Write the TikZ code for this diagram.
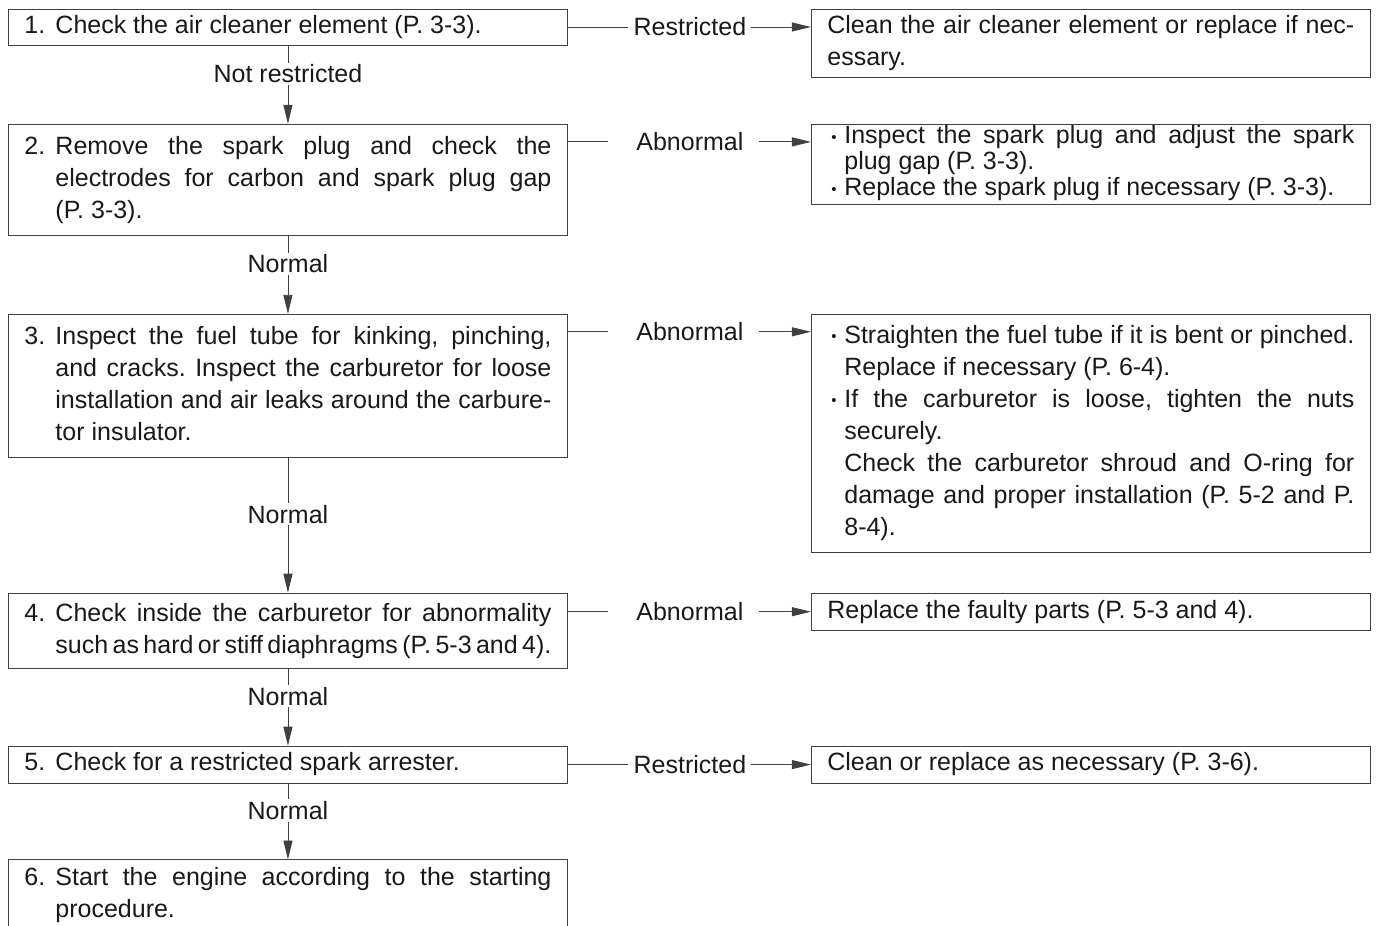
\documentclass[tikz,border=0pt]{standalone}
\usepackage{fontspec}
\setmainfont{Liberation Sans}
\usepackage{graphicx}
\usepackage{tikz}
\usetikzlibrary{positioning,arrows.meta}
\newcommand{\numitem}[1]{\hangindent=31pt\hangafter=1\noindent\makebox[31pt][l]{#1}\strut}
\newcommand{\bulitem}{\hangindent=17pt\hangafter=1\noindent\makebox[17pt][l]{\hspace{4pt}\raisebox{0.07em}{\scalebox{0.6}{•}}}\strut}
\newcommand{\plainitem}{\noindent\strut}
\newcommand{\finis}{\strut\par}

\begin{document}
\begin{tikzpicture}%
  \tikzstyle{every node}=[text=black!90]
  \tikzstyle{txt}=[font={\fontsize{25}{32}\selectfont\frenchspacing\tolerance=10000\spaceskip=0.278em plus 0.3em minus 0.3em}]
  \tikzstyle{tight}=[font={\fontsize{25}{23}\selectfont\frenchspacing\tolerance=10000\spaceskip=0.278em plus 0.3em minus 0.3em}]
  \tikzstyle{stepbox}=[txt,draw=black!75,line width=0.9pt,text width=527pt,inner xsep=16pt,inner ysep=0pt,align=justify,anchor=north west]
  \tikzstyle{conn}=[draw=black!75,line width=0.9pt]
  \tikzstyle{arr}=[conn,-{Triangle[length=19pt,width=9pt]}]
  \tikzstyle{cond}=[txt,inner xsep=5pt]
  \tikzstyle{abn}=[txt,inner xsep=15pt,execute at begin node={\hspace*{13pt}}]
  \tikzstyle{vlab}=[txt,fill=white,inner xsep=3pt,inner ysep=2pt,yshift=11pt]
  \useasboundingbox (0,0) rectangle (1377pt,-926pt);
  \node[stepbox,minimum height=36pt] (s1) at (8pt,-9pt) {\numitem{1.}Check the air cleaner element (P. 3-3).\finis};
  \node[stepbox,minimum height=111pt,below=78pt of s1] (s2) {\numitem{2.}Remove the spark plug and check the\linebreak electrodes for carbon and spark plug gap\linebreak (P. 3-3).\finis};
  \node[stepbox,minimum height=143pt,below=78pt of s2] (s3) {\numitem{3.}Inspect the fuel tube for kinking, pinching,\linebreak and cracks. Inspect the carburetor for loose\linebreak installation and air leaks around the carbure-\linebreak tor insulator.\finis};
  \node[stepbox,minimum height=75pt,below=135pt of s3] (s4) {\numitem{4.}Check inside the carburetor for abnormality\linebreak such as hard or stiff diaphragms (P. 5-3 and 4).\finis};
  \node[stepbox,minimum height=37pt,below=77pt of s4] (s5) {\numitem{5.}Check for a restricted spark arrester.\finis};
  \node[stepbox,draw=none,minimum height=71pt,below=76pt of s5] (s6) {\numitem{6.}Start the engine according to the starting\linebreak procedure.\finis};
  \draw[conn] (s6.south west) -- (s6.north west) -- (s6.north east) -- (s6.south east);

  \node[stepbox,minimum height=68pt,right=243pt of s1.north east,anchor=north west] (r1) {\plainitem Clean the air cleaner element or replace if nec-\linebreak essary.\finis};
  \node[stepbox,tight,minimum height=80pt,right=243pt of s2.north east,anchor=north west] (r2) {\bulitem Inspect the spark plug and adjust the spark\linebreak plug gap (P. 3-3).\finis\bulitem Replace the spark plug if necessary (P. 3-3).\finis};
  \node[stepbox,minimum height=238pt,right=243pt of s3.north east,anchor=north west] (r3) {\bulitem Straighten the fuel tube if it is bent or pinched.\linebreak Replace if necessary (P. 6-4).\finis\bulitem If the carburetor is loose, tighten the nuts\linebreak securely.\newline Check the carburetor shroud and O-ring for\linebreak damage and proper installation (P. 5-2 and P.\linebreak 8-4).\finis};
  \node[stepbox,minimum height=37pt,right=243pt of s4.north east,anchor=north west] (r4) {\plainitem Replace the faulty parts (P. 5-3 and 4).\finis};
  \node[stepbox,minimum height=37pt,right=243pt of s5.north east,anchor=north west] (r5) {\plainitem Clean or replace as necessary (P. 3-6).\finis};

  \node[cond] (c1) at ([xshift=122pt,yshift=-18pt]s1.north east) {Restricted};
  \node[abn] (c2) at ([xshift=115.5pt,yshift=-18pt]s2.north east) {Abnormal};
  \node[abn] (c3) at ([xshift=115.5pt,yshift=-18pt]s3.north east) {Abnormal};
  \node[abn] (c4) at ([xshift=115.5pt,yshift=-19pt]s4.north east) {Abnormal};
  \node[cond] (c5) at ([xshift=122pt,yshift=-19pt]s5.north east) {Restricted};
  \foreach \i in {1,...,5}{
    \draw[conn] (s\i.east |- c\i) -- (c\i);
    \draw[arr] (c\i) -- (r\i.west |- c\i);
  }

  \draw[arr] (s1) -- node[vlab]{Not restricted} (s2);
  \draw[arr] (s2) -- node[vlab]{Normal} (s3);
  \draw[arr] (s3) -- node[vlab]{Normal} (s4);
  \draw[arr] (s4) -- node[vlab]{Normal} (s5);
  \draw[arr] (s5) -- node[vlab]{Normal} (s6);
\end{tikzpicture}
\end{document}
